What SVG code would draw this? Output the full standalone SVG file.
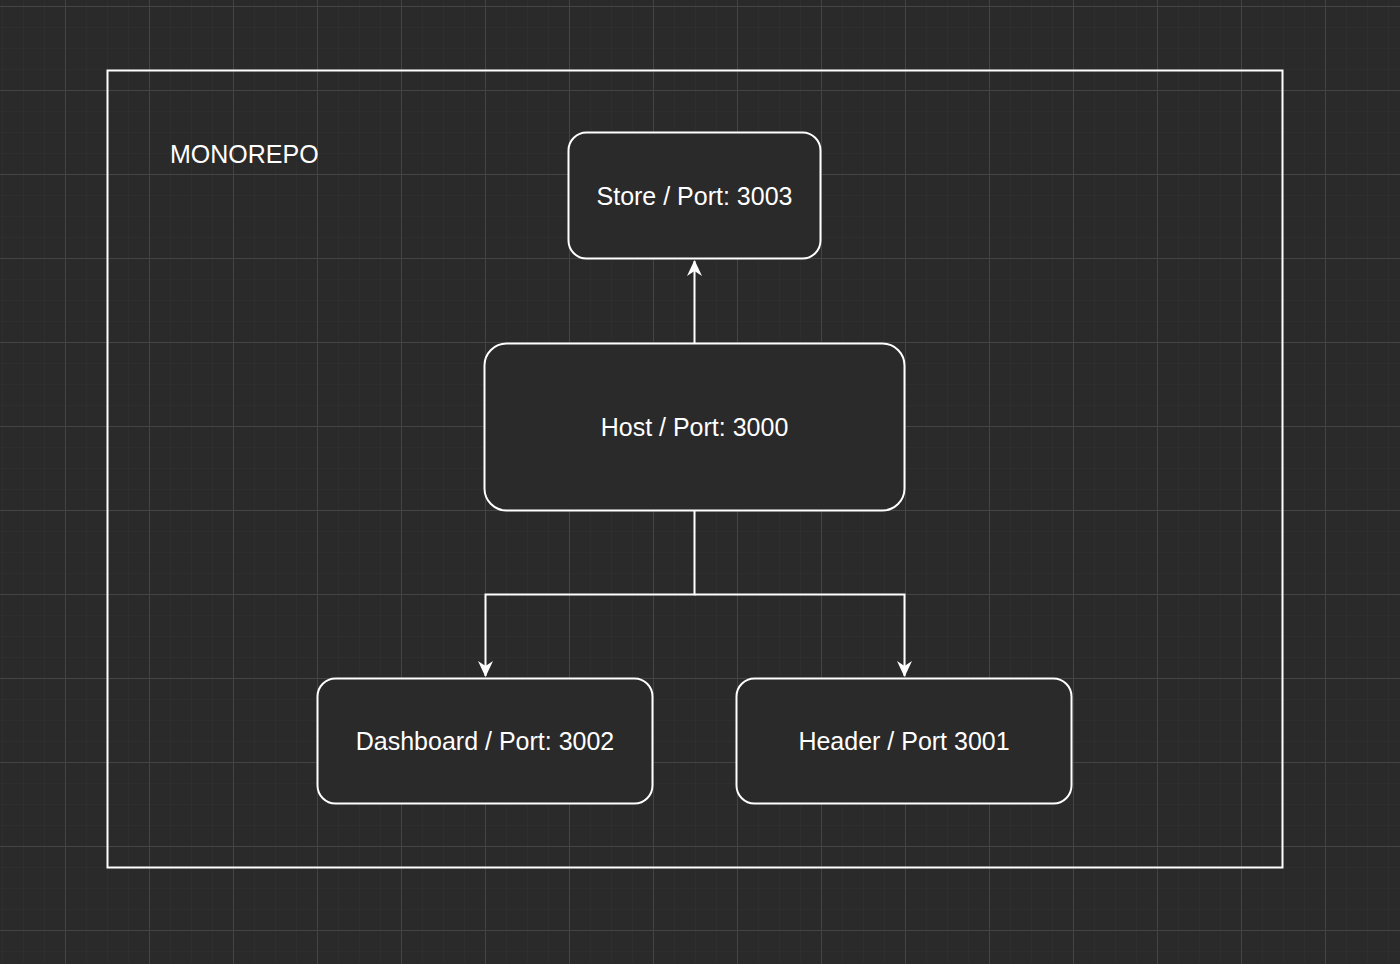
<svg xmlns="http://www.w3.org/2000/svg" width="1400" height="964" viewBox="0 0 1400 964">
<defs>
<pattern id="minor" x="2" y="6" width="21" height="21" patternUnits="userSpaceOnUse">
<path d="M0 0H21M0 0V21" fill="none" stroke="#323232" stroke-width="1"/>
</pattern>
<pattern id="major" x="65" y="6" width="84" height="84" patternUnits="userSpaceOnUse">
<path d="M0 0.5H84M0.5 0V84" fill="none" stroke="#444444" stroke-width="1"/>
</pattern>
<marker id="arr" viewBox="0 0 16 16" refX="15" refY="8" markerWidth="16" markerHeight="16" markerUnits="userSpaceOnUse" orient="auto">
<path d="M0 0.5L16 8L0 15.5L5 8Z" fill="#ffffff"/>
</marker>
</defs>
<style>
.node rect{fill:#2a2a2a;stroke:#ffffff;stroke-width:2}
.lbl{font-family:"Liberation Sans",Arial,sans-serif;font-size:25px;fill:#ffffff;text-anchor:middle;dominant-baseline:central}
.edge{fill:none;stroke:#ffffff;stroke-width:2}
</style>
<rect width="1400" height="964" fill="#2a2a2a"/>
<rect width="1400" height="964" fill="url(#minor)"/>
<rect width="1400" height="964" fill="url(#major)"/>
<g id="monorepo">
<rect x="107.5" y="70.5" width="1175" height="797" fill="none" stroke="#ffffff" stroke-width="2"/>
<text x="170" y="163" font-family="Liberation Sans,Arial,sans-serif" font-size="25" fill="#ffffff">MONOREPO</text>
</g>
<g id="connectors">
<path class="edge" d="M694.5 343V261" marker-end="url(#arr)"/>
<path class="edge" d="M694.5 511V594.5H485.5V676" marker-end="url(#arr)"/>
<path class="edge" d="M694.5 594.5H904.5V676" marker-end="url(#arr)"/>
</g>
<g id="store" class="node">
<rect x="568.5" y="132.5" width="252" height="126" rx="18"/>
<text class="lbl" x="694.5" y="196">Store / Port: 3003</text>
</g>
<g id="host" class="node">
<rect x="484.5" y="343.5" width="420" height="167" rx="22"/>
<text class="lbl" x="694.5" y="427">Host / Port: 3000</text>
</g>
<g id="dashboard" class="node">
<rect x="317.5" y="678.5" width="335" height="125" rx="18"/>
<text class="lbl" x="485" y="741">Dashboard / Port: 3002</text>
</g>
<g id="header" class="node">
<rect x="736.5" y="678.5" width="335" height="125" rx="18"/>
<text class="lbl" x="904" y="741">Header / Port 3001</text>
</g>
</svg>
